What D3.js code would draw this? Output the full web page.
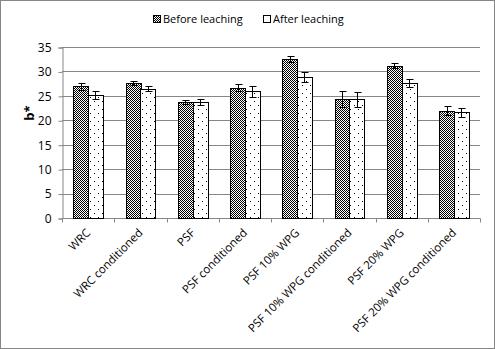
<!DOCTYPE html>
<html lang="en">
<head>
<meta charset="utf-8">
<title>b* before and after leaching</title>
<script src="https://d3js.org/d3.v7.min.js"></script>
<style type="text/css">
  body { margin: 0; background: #fff; }
  text { font-family: "Open Sans", "Liberation Sans", sans-serif; fill: #000; }
</style>
</head>
<body>
<script type="text/javascript">

  // data
  var categories = ["WRC", "WRC conditioned", "PSF", "PSF conditioned", "PSF 10% WPG",
                    "PSF 10% WPG conditioned", "PSF 20% WPG", "PSF 20% WPG conditioned"];
  var seriesNames = ["Before leaching", "After leaching"];
  var beforeValues = [27.0, 27.6, 23.7, 26.7, 32.5, 24.3, 31.2, 22.0];
  var beforeErrors = [0.7, 0.4, 0.4, 0.8, 0.6, 1.6, 0.6, 1.0];
  var afterValues = [25.1, 26.5, 23.7, 25.9, 28.8, 24.3, 27.6, 21.6];
  var afterErrors = [0.8, 0.6, 0.6, 1.1, 1.0, 1.5, 0.8, 0.9];
  var yTicks = [0, 5, 10, 15, 20, 25, 30, 35];

  var width = 495, height = 349;
  var plotLeft = 62, plotRight = 480, plotTop = 47, plotBottom = 218;

  var svg = d3.select("body").append("svg")
    .attr("width", width)
    .attr("height", height);

  // fill patterns
  var defs = svg.append("defs");
  var checker = defs.append("pattern")
    .attr("id", "checker").attr("patternUnits", "userSpaceOnUse")
    .attr("width", 2).attr("height", 2);
  checker.append("rect").attr("width", 2).attr("height", 2).attr("fill", "#fff");
  checker.append("rect").attr("width", 1).attr("height", 1).attr("fill", "#000");
  checker.append("rect").attr("x", 1).attr("y", 1).attr("width", 1).attr("height", 1).attr("fill", "#000");

  var dots = defs.append("pattern")
    .attr("id", "dots").attr("patternUnits", "userSpaceOnUse")
    .attr("width", 8).attr("height", 8);
  dots.append("rect").attr("width", 8).attr("height", 8).attr("fill", "#fff");
  dots.append("rect").attr("x", 2).attr("y", 1).attr("width", 1).attr("height", 1).attr("fill", "#000");
  dots.append("rect").attr("x", 6).attr("y", 5).attr("width", 1).attr("height", 1).attr("fill", "#000");

  var fills = ["url(#checker)", "url(#dots)"];

  // outer border
  svg.append("rect")
    .attr("x", 0.5).attr("y", 0.5)
    .attr("width", width - 1).attr("height", height - 1)
    .attr("fill", "none").attr("stroke", "#868686");

  var xScale = d3.scaleBand()
    .domain(categories)
    .range([plotLeft, plotRight])
    .paddingInner(0.44).paddingOuter(0.22);

  var xInner = d3.scaleBand()
    .domain(seriesNames)
    .range([0, xScale.bandwidth()]);

  var yScale = d3.scaleLinear()
    .domain([0, 35])
    .range([plotBottom, plotTop]);

  // gridlines
  svg.append("g")
    .selectAll("line")
    .data(yTicks.filter(function(d) { return d > 0; }))
    .enter()
    .append("line")
    .attr("x1", plotLeft).attr("x2", plotRight)
    .attr("y1", function(d) { return Math.round(yScale(d)) + 0.5; })
    .attr("y2", function(d) { return Math.round(yScale(d)) + 0.5; })
    .attr("stroke", "#868686");

  // y axis
  var yAxis = svg.append("g")
    .attr("transform", "translate(" + (plotLeft + 0.5) + ",0.5)")
    .call(d3.axisLeft(yScale).tickValues(yTicks).tickSize(4).tickPadding(7));
  yAxis.select(".domain").attr("stroke", "#868686");
  yAxis.selectAll(".tick line").attr("stroke", "#868686");
  yAxis.selectAll(".tick text")
    .style("font-size", "12px")
    .style("font-family", "Open Sans, Liberation Sans, sans-serif")
    .attr("fill", "#000");

  // x axis
  var xAxis = svg.append("g")
    .attr("transform", "translate(0," + (plotBottom + 0.5) + ")");
  xAxis.append("line")
    .attr("x1", plotLeft).attr("x2", plotRight + 0.5)
    .attr("stroke", "#868686");
  var edges = categories.map(function(c) { return xScale(c) - xScale.step() * xScale.paddingInner() / 2; });
  edges.push(plotRight);
  xAxis.selectAll("line.tick")
    .data(edges)
    .enter()
    .append("line")
    .attr("class", "tick")
    .attr("x1", function(d) { return Math.round(d) + 0.5; })
    .attr("x2", function(d) { return Math.round(d) + 0.5; })
    .attr("y1", 0).attr("y2", 4)
    .attr("stroke", "#868686");

  xAxis.selectAll("text")
    .data(categories)
    .enter()
    .append("text")
    .attr("transform", function(d) {
      var cx = xScale(d) + xScale.bandwidth() / 2 + 3;
      return "translate(" + cx + ",15) rotate(-45)";
    })
    .attr("text-anchor", "end")
    .style("font-size", "11.5px")
    .text(function(d) { return d; });

  // y title
  svg.append("text")
    .attr("transform", "translate(34,113) rotate(-90)")
    .attr("text-anchor", "middle")
    .style("font-size", "13px")
    .style("font-weight", "bold")
    .text("b*");

  // bars
  var rows = categories.map(function(c, i) {
    return [
      { cat: c, s: 0, v: beforeValues[i], e: beforeErrors[i] },
      { cat: c, s: 1, v: afterValues[i], e: afterErrors[i] }
    ];
  });
  var flat = [].concat.apply([], rows);

  svg.append("g")
    .selectAll("rect")
    .data(flat)
    .enter()
    .append("rect")
    .attr("x", function(d) { return Math.round(xScale(d.cat) + xInner(seriesNames[d.s])) + 0.5; })
    .attr("y", function(d) { return Math.round(yScale(d.v)) + 0.5; })
    .attr("width", Math.round(xInner.bandwidth()))
    .attr("height", function(d) { return Math.round(plotBottom - yScale(d.v)); })
    .attr("fill", function(d) { return fills[d.s]; })
    .attr("stroke", "#000")
    .attr("stroke-width", 1);

  // error bars
  var errG = svg.append("g").attr("stroke", "#000").attr("stroke-width", 1);
  flat.forEach(function(d) {
    var cx = Math.round(xScale(d.cat) + xInner(seriesNames[d.s]) + xInner.bandwidth() / 2) + 0.5;
    var y1 = Math.round(yScale(d.v + d.e)) + 0.5;
    var y2 = Math.round(yScale(d.v - d.e)) + 0.5;
    errG.append("line").attr("x1", cx).attr("x2", cx).attr("y1", y1).attr("y2", y2);
    errG.append("line").attr("x1", cx - 3).attr("x2", cx + 4).attr("y1", y1).attr("y2", y1);
    errG.append("line").attr("x1", cx - 3).attr("x2", cx + 4).attr("y1", y2).attr("y2", y2);
  });

  // legend
  var legendX = [153, 263];
  var legend = svg.append("g")
    .selectAll("g")
    .data(seriesNames)
    .enter()
    .append("g")
    .attr("transform", function(d, i) { return "translate(" + legendX[i] + ",15)"; });
  legend.append("rect")
    .attr("x", 0.5).attr("y", 0.5)
    .attr("width", 7).attr("height", 7)
    .attr("fill", function(d, i) { return i === 0 ? fills[0] : "#fff"; })
    .attr("stroke", "#000");
  legend.append("text")
    .attr("x", 10).attr("y", 8)
    .style("font-size", "11px")
    .text(function(d) { return d; });

</script>
</body>
</html>
